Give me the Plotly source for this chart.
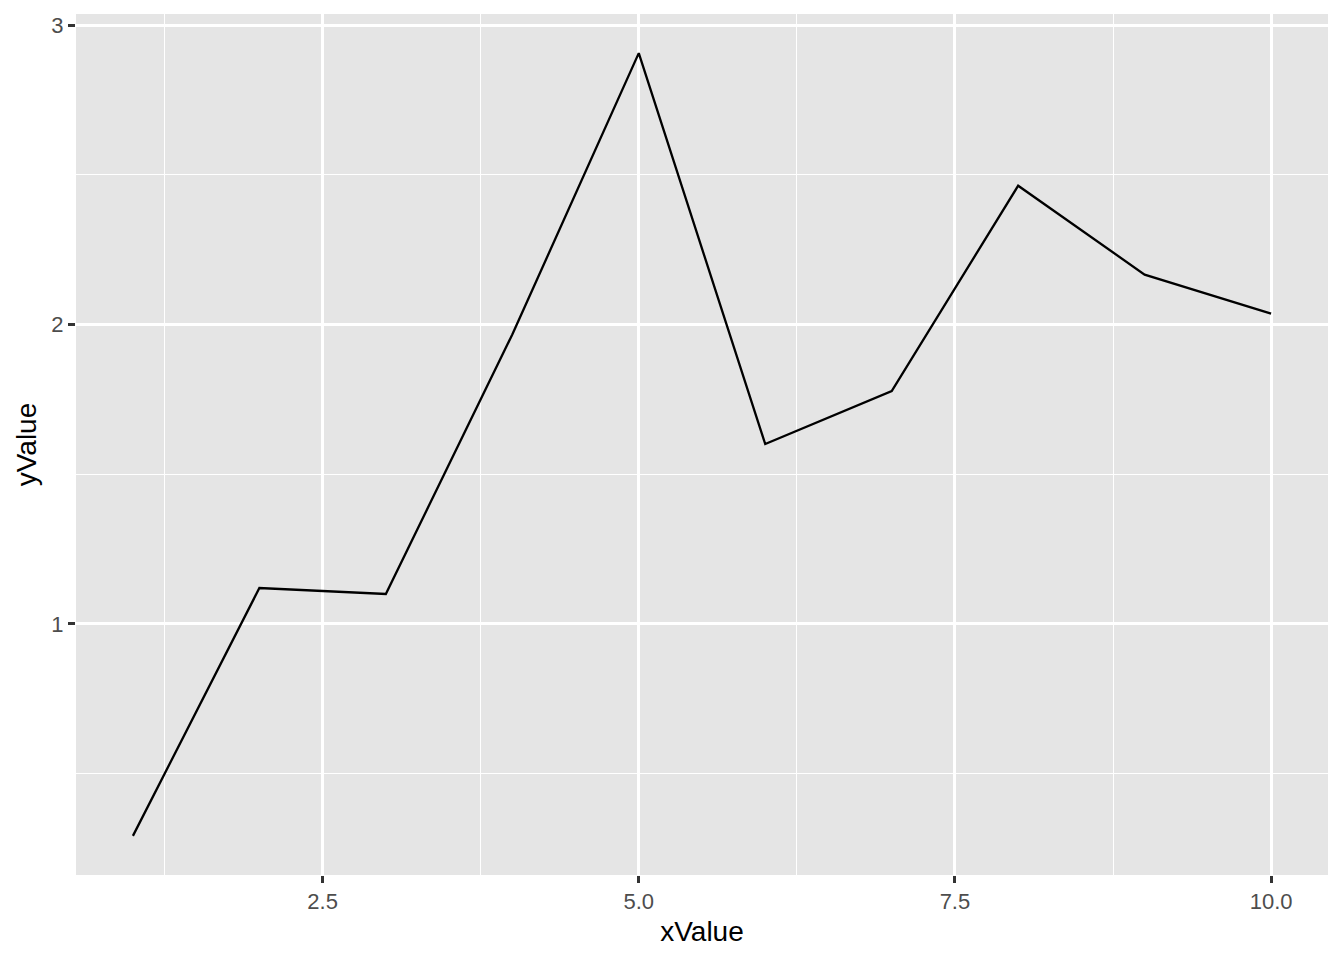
import plotly.graph_objects as go

x_values = [1, 2, 3, 4, 5, 6, 7, 8, 9, 10]
y_values = [0.292, 1.12, 1.10, 1.967, 2.907, 1.601, 1.778, 2.464, 2.167, 2.037]

x_ticks = [2.5, 5.0, 7.5, 10.0]
x_tick_text = ["2.5", "5.0", "7.5", "10.0"]
y_ticks = [1, 2, 3]
y_tick_text = ["1", "2", "3"]

fig = go.Figure()
fig.add_trace(go.Scatter(x=x_values, y=y_values, mode="lines",
                         line=dict(color="black", width=2.3)))

font_family = "Liberation Sans, Arial, Helvetica, sans-serif"
common = dict(
    showline=False, zeroline=False,
    gridcolor="white", gridwidth=2.5,
    ticks="outside", ticklen=7, tickwidth=2.5, tickcolor="#333333",
    tickfont=dict(family=font_family, size=22, color="#4D4D4D"),
)

xmin, xmax = min(x_values), max(x_values)
ymin, ymax = min(y_values), max(y_values)
xpad = (xmax - xmin) * 0.05
ypad = (ymax - ymin) * 0.05

fig.update_layout(
    width=1336, height=952,
    margin=dict(l=68, r=16, t=6, b=85),
    paper_bgcolor="white", plot_bgcolor="#E5E5E5",
    showlegend=False,
    font=dict(family=font_family),
    xaxis=dict(range=[xmin - xpad, xmax + xpad], tickvals=x_ticks, ticktext=x_tick_text,
               title=dict(text="xValue", font=dict(size=28, color="black"), standoff=7),
               minor=dict(tick0=0, dtick=1.25, showgrid=True, gridcolor="white", gridwidth=1.3, ticks=""),
               **common),
    yaxis=dict(range=[ymin - ypad, ymax + ypad], tickvals=y_ticks, ticktext=y_tick_text,
               title=dict(text="yValue", font=dict(size=28, color="black"), standoff=6),
               minor=dict(tick0=0, dtick=0.5, showgrid=True, gridcolor="white", gridwidth=1.3, ticks=""),
               **common),
)

fig.write_html("out.html")
